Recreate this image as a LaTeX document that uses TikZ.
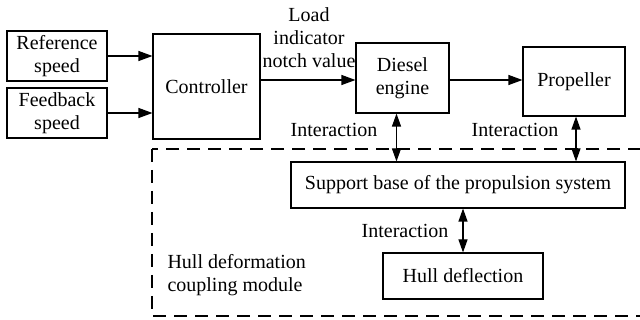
\documentclass[tikz,border=0pt]{standalone}
\usepackage{fontspec}
\setmainfont{Liberation Serif}
\usetikzlibrary{arrows.meta}
\begin{document}
\begin{tikzpicture}[x=1pt,y=-1pt,
  font=\fontsize{20}{23}\selectfont,
  block/.style={draw,line width=1.1pt,align=center,inner sep=0pt},
  flow/.style={line width=1.1pt,-{Triangle[length=14pt,width=10pt]}},
  mutual/.style={line width=1.1pt,{Triangle[length=13pt,width=9pt]}-{Triangle[length=13pt,width=9pt]}},
  module/.style={draw,line width=1.8pt,dash pattern=on 13pt off 8pt}]
\useasboundingbox (0,0) rectangle (640,320);
% coupling module frame (runs off the right edge)
\begin{scope}
\clip (0,0) rectangle (640,320);
\draw[module] (152,149) rectangle (660,316);
\end{scope}
% blocks
\node[block,minimum width=100pt,minimum height=50pt] (ref) at (57,56) {Reference\\speed};
\node[block,minimum width=100pt,minimum height=50pt] (fb) at (57,113) {Feedback\\speed};
\node[block,minimum width=107pt,minimum height=105pt] (ctrl) at (206.5,86.5) {Controller};
\node[block,minimum width=93pt,minimum height=70pt] (diesel) at (402.5,78) {Diesel\\engine};
\node[block,minimum width=102pt,minimum height=69pt] (prop) at (574,81.5) {Propeller};
\node[block,minimum width=334pt,minimum height=46pt] (support) at (458,185) {Support base of the propulsion system};
\node[block,minimum width=160pt,minimum height=46pt] (hull) at (463,276) {Hull deflection};
% labels
\node[align=center] (load) at (309,38) {Load\\indicator\\notch value};
\node (int1) at (334,130) {Interaction};
\node (int2) at (515,130) {Interaction};
\node (int3) at (405,231) {Interaction};
\node[align=left,anchor=west] (hdcm) at (164,275) {Hull deformation\\coupling module};
% signal flow
\draw[flow] (ref.east) -- (ref.east -| ctrl.west);
\draw[flow] (fb.east) -- (fb.east -| ctrl.west);
\draw[flow] (ctrl.east |- 0,80) -- (diesel.west |- 0,80);
\draw[flow] (diesel.east |- 0,80) -- (prop.west |- 0,80);
% interactions
\coordinate (dtop) at ([xshift=-6pt]diesel.south);
\draw[mutual] (dtop) -- (dtop |- support.north);
\draw[mutual] ([xshift=2pt]prop.south) -- ([xshift=2pt]prop.south |- support.north);
\draw[mutual] (support.south -| hull.north) -- (hull.north);
\end{tikzpicture}
\end{document}
